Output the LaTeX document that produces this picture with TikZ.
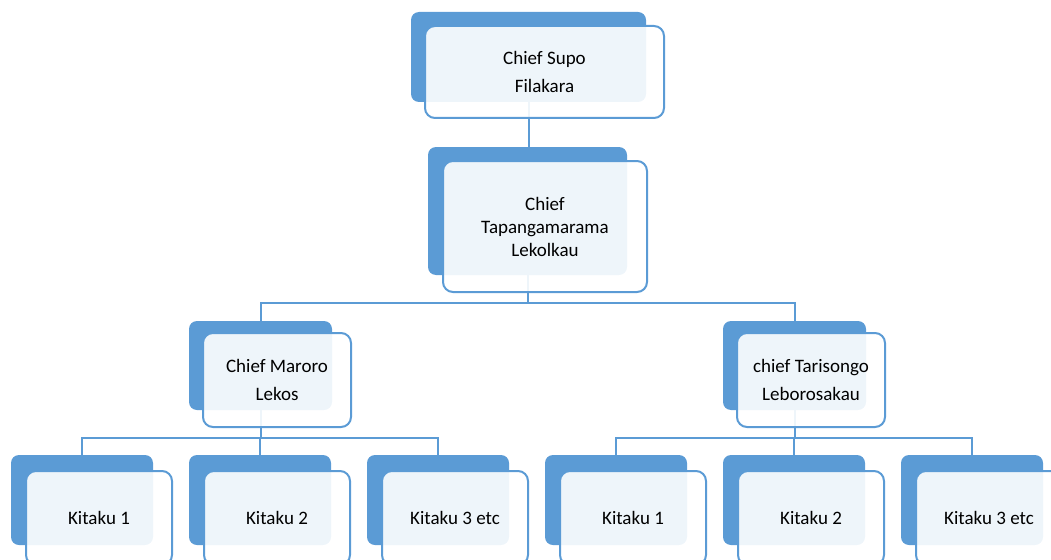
\documentclass[tikz,border=0pt]{standalone}
\usepackage{fontspec}
\setmainfont{Carlito}
\definecolor{chart_blue}{RGB}{91,155,213}

\begin{document}
\begin{tikzpicture}[x=1pt,y=-1pt,
    back/.style={fill=chart_blue, rounded corners=8pt, inner sep=0pt},
    front/.style={draw=chart_blue, line width=2pt, fill=white,
      fill opacity=0.9, text opacity=1, rounded corners=10pt,
      inner sep=0pt, align=center, font=\fontsize{19}{28}\selectfont},
    link/.style={draw=chart_blue, line width=2pt},
    leafsize/.style={minimum width=142pt, minimum height=90pt},
    leaffront/.style={minimum width=146pt, minimum height=94pt},
  ]
  \useasboundingbox (0,0) rectangle (1051,559);
  \clip (0,0) rectangle (1051,559);

  % dark boxes behind
  \node[back, minimum width=235pt, minimum height=90pt] (supo) at (528.5,57) {};
  \node[back, minimum width=199pt, minimum height=128pt] (tapa) at (527.5,211) {};
  \node[back, minimum width=143pt, minimum height=89pt] (maroro) at (260.5,365.5) {};
  \node[back, minimum width=143pt, minimum height=89pt] (tarisongo) at (794.5,365.5) {};
  \foreach \x/\name in {82/ka1, 260/ka2, 438/ka3, 616/kb1, 794/kb2, 972/kb3}
    \node[back, leafsize] (\name) at (\x,500) {};

  % connectors
  \draw[link] (supo.south) -- (supo.south |- tapa.north);
  \draw[link] (tapa.south) -- ++(0,28) coordinate (tj);
  \draw[link] (maroro.north) |- (tj) -| (tarisongo.north);
  \draw[link] (maroro.south) -- ++(0,28) coordinate (mj);
  \draw[link] (ka1.north) |- (mj) -| (ka3.north);
  \draw[link] (ka2.north) -- (ka2.north |- mj);
  \draw[link] (tarisongo.south) -- ++(0,28) coordinate (rj);
  \draw[link] (kb1.north) |- (rj) -| (kb3.north);
  \draw[link] (kb2.north) -- (kb2.north |- rj);

  % front boxes with the names
  \node[front, minimum width=239pt, minimum height=92pt, xshift=16pt, yshift=-15pt]
    (supo-f) at (supo) {Chief Supo\\Filakara};
  \node[front, minimum width=204pt, minimum height=131pt, xshift=17.5pt, yshift=-15.5pt,
    font=\fontsize{19}{23}\selectfont]
    (tapa-f) at (tapa) {Chief\\Tapangamarama\\Lekolkau};
  \node[front, minimum width=148pt, minimum height=94pt, xshift=16.5pt, yshift=-14.5pt]
    (maroro-f) at (maroro) {Chief Maroro\\Lekos};
  \node[front, minimum width=148pt, minimum height=94pt, xshift=16.5pt, yshift=-14.5pt]
    (tarisongo-f) at (tarisongo) {chief Tarisongo\\Leborosakau};
  \foreach \name/\txt in {ka1/Kitaku 1, ka2/Kitaku 2, ka3/Kitaku 3 etc,
                          kb1/Kitaku 1, kb2/Kitaku 2, kb3/Kitaku 3 etc}
    \node[front, leaffront, xshift=17pt, yshift=-18pt] (\name-f) at (\name) {\txt};
\end{tikzpicture}
\end{document}
